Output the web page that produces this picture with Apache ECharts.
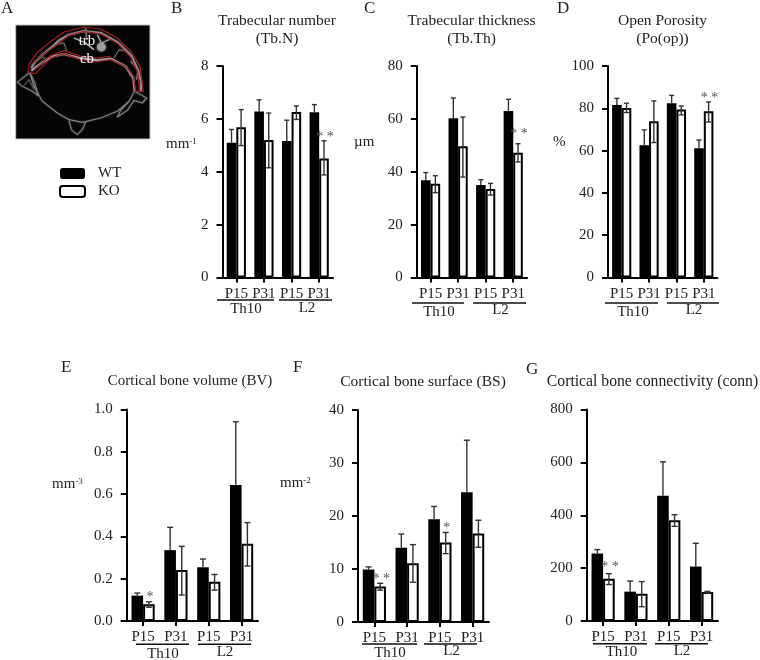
<!DOCTYPE html>
<html>
<head>
<meta charset="utf-8">
<style>html,body{margin:0;padding:0;background:#fff}#c{width:760px;height:660px}</style>
<script src="https://cdn.jsdelivr.net/npm/echarts@6/dist/echarts.min.js"></script>
</head>
<body>
<div id="c"></div>
<script>
// ---------- data ----------
const categories = ['P15', 'P31', 'P15', 'P31'];
const groups = ['Th10', 'L2'];

const tbnTicks = [0, 2, 4, 6, 8];
const tbnWT = [5.1, 6.28, 5.16, 6.25];
const tbnWTHi = [5.6, 6.72, 5.95, 6.54];
const tbnKO = [5.68, 5.2, 6.26, 4.5];
const tbnKOHi = [6.35, 6.22, 6.49, 5.17];
const tbnKOLo = [4.99, 4.15, 5.98, 3.88];
const tbnStars = ['', '', '', '* *'];

const tbtTicks = [0, 20, 40, 60, 80];
const tbtWT = [36.8, 60.2, 35, 63];
const tbtWTHi = [39.7, 67.9, 37, 67.4];
const tbtKO = [35.5, 49.6, 33.5, 47.2];
const tbtKOHi = [38.5, 60.7, 35.6, 50.6];
const tbtKOLo = [32.1, 38, 31.2, 43.7];
const tbtStars = ['', '', '', '* *'];

const poTicks = [0, 20, 40, 60, 80, 100];
const poWT = [81.6, 62.5, 82.4, 61.1];
const poWTHi = [84.7, 69.8, 86.1, 65];
const poKO = [80.2, 73.9, 79.4, 78.6];
const poKOHi = [82.4, 83.5, 81.1, 83];
const poKOLo = [78, 63.8, 76.9, 73.5];
const poStars = ['', '', '', '* *'];

const bvTicks = [0, 0.2, 0.4, 0.6, 0.8, 1];
const bvWT = [0.12, 0.335, 0.254, 0.643];
const bvWTHi = [0.132, 0.443, 0.293, 0.942];
const bvKO = [0.079, 0.241, 0.186, 0.365];
const bvKOHi = [0.091, 0.353, 0.22, 0.465];
const bvKOLo = [0.065, 0.123, 0.146, 0.26];
const bvStars = ['*', '', '', ''];

const bsTicks = [0, 10, 20, 30, 40];
const bsWT = [9.9, 14, 19.4, 24.5];
const bsWTHi = [10.4, 16.6, 21.8, 34.3];
const bsKO = [6.7, 11.1, 15, 16.7];
const bsKOHi = [7.3, 14.6, 16.9, 19.2];
const bsKOLo = [6, 7.5, 12.9, 14.1];
const bsStars = ['* *', '', '*', ''];

const connTicks = [0, 200, 400, 600, 800];
const connWT = [255, 111, 474, 206];
const connWTHi = [270, 151, 602, 294];
const connKO = [160, 103, 381, 110];
const connKOHi = [179, 149, 402, 112];
const connKOLo = [138, 54, 358, 107];
const connStars = ['* *', '', '', ''];

// ---------- panels ----------
const panels = [
  { letter: 'B', title: 'Trabecular number\n(Tb.N)', unit: '{a|mm}{b|-1}', ticks: tbnTicks, wt: tbnWT, wtHi: tbnWTHi, ko: tbnKO, koHi: tbnKOHi, koLo: tbnKOLo, stars: tbnStars },
  { letter: 'C', title: 'Trabecular thickness\n(Tb.Th)', unit: '{a|µm}', ticks: tbtTicks, wt: tbtWT, wtHi: tbtWTHi, ko: tbtKO, koHi: tbtKOHi, koLo: tbtKOLo, stars: tbtStars },
  { letter: 'D', title: 'Open Porosity\n(Po(op))', unit: '{a|%}', ticks: poTicks, wt: poWT, wtHi: poWTHi, ko: poKO, koHi: poKOHi, koLo: poKOLo, stars: poStars },
  { letter: 'E', title: 'Cortical bone volume (BV)', unit: '{a|mm}{b|-3}', ticks: bvTicks, wt: bvWT, wtHi: bvWTHi, ko: bvKO, koHi: bvKOHi, koLo: bvKOLo, stars: bvStars, decimals: 1 },
  { letter: 'F', title: 'Cortical bone surface (BS)', unit: '{a|mm}{b|-2}', ticks: bsTicks, wt: bsWT, wtHi: bsWTHi, ko: bsKO, koHi: bsKOHi, koLo: bsKOLo, stars: bsStars },
  { letter: 'G', title: 'Cortical bone connectivity (conn)', unit: '', ticks: connTicks, wt: connWT, wtHi: connWTHi, ko: connKO, koHi: connKOHi, koLo: connKOLo, stars: connStars }
];

// ---------- layout ----------
const layouts = [
  { x0: 222.5, x1: 333, y0: 66, y1: 277.5, bw: 9.6, cap: 5, starDy: -3, titleSize: 15.5, letter: [171, 8], title: [277, 12], unit: [166, 145],
    brackets: [[217, 274], [279, 332]], by: 300, labels: [[246, 309], [307, 308]] },
  { x0: 416.8, x1: 527, y0: 66, y1: 277.5, bw: 9.6, cap: 5, starDy: -9, titleSize: 15.5, letter: [364, 8], title: [471.5, 12], unit: [354, 143],
    brackets: [[412, 464], [473, 526]], by: 303, labels: [[439, 312], [500.5, 310]] },
  { x0: 608, x1: 717.5, y0: 66, y1: 277.5, bw: 9.6, cap: 5, starDy: -4, titleSize: 15.5, letter: [557, 8], title: [662.5, 12], unit: [553, 143],
    brackets: [[605, 658], [667, 719]], by: 303, labels: [[633, 312], [694, 310]] },
  { x0: 126.7, x1: 258, y0: 409.5, y1: 621, bw: 11.6, cap: 6, starDy: -4, titleSize: 15, letter: [61, 367], title: [190, 372.5], unit: [52, 485],
    brackets: [[136, 189], [198, 251]], by: 644.3, labels: [[163, 654], [225, 652]] },
  { x0: 358, x1: 489, y0: 410, y1: 622, bw: 11.6, cap: 6, starDy: -4, titleSize: 15.5, letter: [293, 367], title: [423, 372.5], unit: [280, 484],
    brackets: [[362, 417], [424, 477]], by: 644, labels: [[390, 653], [451.5, 651]] },
  { x0: 586.7, x1: 718, y0: 409.5, y1: 621, bw: 11.6, cap: 6, starDy: -6, titleSize: 15.7, letter: [526, 369], title: [652.5, 372.5], unit: [0, 0],
    brackets: [[593, 647], [655, 708]], by: 643.7, labels: [[621.5, 652], [682, 651]] }
];

const FONT = '"Liberation Serif","Times New Roman",serif';
const INK = '#222';

const option = {
  animation: false,
  backgroundColor: '#fff',
  textStyle: { fontFamily: FONT, color: INK },
  legend: {
    data: ['WT', 'KO'], orient: 'vertical', left: 59, top: 166, padding: 0, itemWidth: 25, itemHeight: 11, itemGap: 3,
    selectedMode: false, textStyle: { fontFamily: FONT, fontSize: 15, color: INK, padding: [0, 0, 0, 8] }
  },
  title: [{ text: 'A', left: 1, top: 0, padding: 0, textStyle: { fontFamily: FONT, fontSize: 17, fontWeight: 'normal', color: INK } }],
  grid: [], xAxis: [], yAxis: [], series: [], graphic: []
};

panels.forEach((p, i) => {
  const L = layouts[i];
  const yMax = p.ticks[p.ticks.length - 1];
  const interval = p.ticks[1] - p.ticks[0];
  option.title.push(
    { text: p.letter, left: L.letter[0], top: L.letter[1] - 8, padding: 0,
      textStyle: { fontFamily: FONT, fontSize: 17, fontWeight: 'normal', color: INK } },
    { text: p.title, left: L.title[0], top: L.title[1], textAlign: 'center', padding: 0,
      textStyle: { fontFamily: FONT, fontSize: L.titleSize, fontWeight: 'normal', color: INK, lineHeight: 18 } }
  );
  if (p.unit) option.title.push({
    text: p.unit, left: L.unit[0], top: L.unit[1] - 8, padding: 0,
    textStyle: { fontFamily: FONT, fontWeight: 'normal', rich: {
      a: { fontFamily: FONT, fontWeight: 'normal', fontSize: 15, color: INK },
      b: { fontFamily: FONT, fontWeight: 'normal', fontSize: 9, color: INK, verticalAlign: 'top', padding: [0, 0, 5, 0] }
    } }
  });
  option.grid.push({ left: L.x0, top: L.y0, width: L.x1 - L.x0, height: L.y1 - L.y0, containLabel: false });
  option.xAxis.push({
    type: 'category', gridIndex: i, data: categories,
    axisLine: { lineStyle: { color: '#000', width: 2 } },
    axisTick: { show: true, alignWithLabel: true, length: 5, lineStyle: { color: '#000', width: 2 } },
    axisLabel: { fontFamily: FONT, fontSize: 15, color: INK, margin: 9, interval: 0, hideOverlap: false },
    splitLine: { show: false }
  });
  option.yAxis.push({
    type: 'value', gridIndex: i, min: 0, max: yMax, interval: interval,
    axisLine: { show: true, lineStyle: { color: '#000', width: 2 } },
    axisTick: { show: true, length: 6, lineStyle: { color: '#000', width: 2 } },
    axisLabel: { fontFamily: FONT, fontSize: 15, color: INK, margin: 14,
      formatter: v => p.decimals ? v.toFixed(p.decimals) : String(v) },
    splitLine: { show: false }
  });
  option.series.push(
    { name: 'WT', type: 'bar', xAxisIndex: i, yAxisIndex: i, data: p.wt, barWidth: L.bw, barGap: 0,
      itemStyle: { color: '#000', borderColor: '#000', borderWidth: 0 }, z: 2 },
    { name: 'KO', type: 'bar', xAxisIndex: i, yAxisIndex: i, data: p.ko, barWidth: L.bw, barGap: 0,
      itemStyle: { color: '#fff', borderColor: '#000', borderWidth: 2 }, z: 3 },
    { name: 'error' + p.letter, type: 'custom', xAxisIndex: i, yAxisIndex: i, z: 4, clip: false, silent: true,
      data: categories.map((_, k) => [k, p.wt[k], p.wtHi[k], p.koHi[k], p.koLo[k]]),
      encode: { x: 0, y: 2 },
      renderItem: (params, api) => {
        const k = api.value(0);
        const xc = api.coord([k, 0])[0];
        const whisker = (x, top, bottom, both) => {
          const yt = api.coord([k, top])[1], yb = api.coord([k, bottom])[1];
          const st = { stroke: '#333', lineWidth: 1.4 };
          const out = [
            { type: 'line', shape: { x1: x, y1: yt, x2: x, y2: yb }, style: st },
            { type: 'line', shape: { x1: x - L.cap / 2, y1: yt, x2: x + L.cap / 2, y2: yt }, style: st }
          ];
          if (both) out.push({ type: 'line', shape: { x1: x - L.cap / 2, y1: yb, x2: x + L.cap / 2, y2: yb }, style: st });
          return out;
        };
        const kids = whisker(xc - L.bw / 2, api.value(2), api.value(1), false)
          .concat(whisker(xc + L.bw / 2, api.value(3), api.value(4), true));
        const star = p.stars[k];
        if (star) kids.push({ type: 'text', style: {
          text: star, x: xc + L.bw / 2 + 1, y: api.coord([k, api.value(3)])[1] + L.starDy,
          align: 'center', verticalAlign: 'middle', font: '14px ' + FONT, fill: '#555' } });
        return { type: 'group', children: kids };
      } }
  );
  L.brackets.forEach(b => option.graphic.push({
    type: 'line', shape: { x1: b[0], y1: L.by, x2: b[1], y2: L.by }, style: { stroke: '#111', lineWidth: 1.4 }
  }));
  groups.forEach((g, j) => option.graphic.push({
    type: 'text', x: L.labels[j][0], y: L.labels[j][1],
    style: { text: g, font: '15px ' + FONT, fill: INK, align: 'center', verticalAlign: 'middle' }
  }));
});

// ---------- panel A: micro-CT illustration, drawn as shapes ----------
const bone = (pts, w, c) => ({ type: 'polyline', shape: { points: pts },
  style: { stroke: c || '#8a8a8a', lineWidth: w || 3, fill: null, lineJoin: 'round', shadowBlur: 2, shadowColor: 'rgba(255,255,255,.3)' } });
const red = pts => ({ type: 'polyline', shape: { points: pts },
  style: { stroke: '#a01f26', lineWidth: 3.6, fill: null, lineJoin: 'round' } });
option.graphic.push(
  { type: 'rect', shape: { x: 15.7, y: 25, width: 134.3, height: 114 },
    style: { fill: '#050505', stroke: '#c4c4c4', lineWidth: 1 } },
  { type: 'group', x: 14, y: 23, scaleX: 1 / 3, scaleY: 1 / 3, children: [
    bone([[52,135],[62,118],[85,95],[118,68],[135,52],[165,35],[210,24],[262,30],[312,58],[352,98],[372,140],[381,175],[381,205]], 6, '#8f8f8f'),
    bone([[52,143],[90,115],[118,100],[150,93],[200,106],[250,112],[290,107],[335,130],[358,165],[362,205]], 6, '#a8a8a8'),
    bone([[48,150],[60,190],[85,235],[130,270],[165,290],[205,298],[260,285],[310,265],[345,235],[362,205]], 3.5, '#7e7e7e'),
    bone([[45,150],[10,178],[25,190],[55,205],[72,218],[62,178],[48,150]], 3.5, '#7e7e7e'),
    bone([[30,188],[45,170],[60,200]], 3, '#5e5e5e'),
    bone([[362,205],[398,225],[385,240],[360,232],[340,262],[310,282],[320,262],[345,235]], 3.5, '#7e7e7e'),
    bone([[165,293],[172,320],[190,335],[205,320],[215,298]], 3.5, '#7e7e7e'),
    bone([[180,45],[215,60],[240,80]], 4, '#c4c4c4'),
    bone([[215,15],[218,50]], 4, '#7a7a7a'),
    bone([[250,35],[262,60],[290,48]], 4, '#a8a8a8'),
    bone([[120,65],[150,60],[158,85]], 3, '#6e6e6e'),
    bone([[80,100],[100,110]], 3, '#6e6e6e'),
    bone([[300,105],[315,80],[340,85]], 3, '#7a7a7a'),
    bone([[350,115],[372,140],[368,170]], 4, '#7a7a7a'),
    { type: 'circle', shape: { cx: 262, cy: 72, r: 13 }, style: { fill: '#9e9e9e', shadowBlur: 3, shadowColor: '#aaa' } },
    red([[42,148],[46,122],[70,88],[110,56],[150,27],[210,12],[260,18],[310,45],[350,85],[378,130],[388,205],[364,205],[358,160],[335,130],[290,110],[240,117],[200,110],[150,92],[110,105],[65,152],[42,148]]),
    red([[52,125],[85,95],[125,68],[165,37],[210,25],[262,33],[312,62],[350,102],[372,150],[376,203]]),
    red([[58,143],[110,97],[150,83],[200,99],[245,105],[290,100]])
  ] },
  { type: 'text', x: 87, y: 41, style: { text: 'trb', font: '15px ' + FONT, fill: '#f2f2f2', align: 'center', verticalAlign: 'middle' } },
  { type: 'text', x: 87, y: 59, style: { text: 'cb', font: '15px ' + FONT, fill: '#f2f2f2', align: 'center', verticalAlign: 'middle' } }
);

const chart = echarts.init(document.getElementById('c'), null, { renderer: 'canvas' });
chart.setOption(option);
</script>
</body>
</html>
